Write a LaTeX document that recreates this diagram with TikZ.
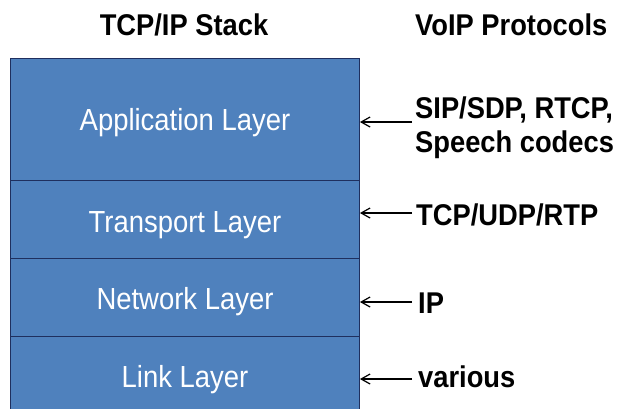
\documentclass[tikz,border=0pt]{standalone}
\usepackage{fontspec}
\setmainfont{Liberation Sans}
\newfontfamily\narrowfont[FakeStretch=0.9]{Liberation Sans}
\newfontfamily\boldnarrow[FakeStretch=0.91]{Liberation Sans Bold}
\usetikzlibrary{arrows.meta}
\definecolor{layerblue}{HTML}{4F81BD}
\definecolor{layeredge}{HTML}{1F2F5E}
\tikzset{
  layerbox/.style={draw=layeredge, line width=0.9pt, fill=layerblue, minimum width=349pt, inner sep=0pt, anchor=north west},
  layertext/.style={text=white, font=\narrowfont\fontsize{30.5}{34}\selectfont, inner sep=0pt},
  headtext/.style={font=\boldnarrow\fontsize{30}{34}\selectfont, inner sep=0pt},
  prototext/.style={font=\boldnarrow\fontsize{30}{34}\selectfont, inner sep=0pt, align=left},
  arr/.style={-{Straight Barb[length=9pt,width=10pt,line width=1.2pt]}, line width=1.2pt}
}
\begin{document}
\begin{tikzpicture}[x=1pt,y=-1pt]
\clip (0,0) rectangle (621,408);
\fill[white] (0,0) rectangle (621,408);
% layers
\node[layerbox, minimum height=122pt] (app) at (10,58) {};
\node[layerbox, minimum height=78pt] (trans) at (10,180) {};
\node[layerbox, minimum height=78pt] (net) at (10,258) {};
\node[layerbox, minimum height=90pt] (link) at (10,336) {};
% layer labels
\node[layertext, anchor=base] (appt) at (185,130) {Application Layer};
\node[layertext, anchor=base] (transt) at (185,232) {Transport Layer};
\node[layertext, anchor=base] (nett) at (185,309) {Network Layer};
\node[layertext, anchor=base] (linkt) at (185,387) {Link Layer};
% headers
\node[headtext, anchor=base] (h1) at (184,35) {TCP/IP Stack};
\node[headtext, anchor=base west] (h2) at (415,35) {VoIP Protocols};
% protocols
\node[prototext, anchor=base west] (p1) at (415,118) {SIP/SDP, RTCP,};
\node[prototext, anchor=base west] (p1b) at (415,152) {Speech codecs};
\node[prototext, anchor=base west] (p2) at (416,225) {TCP/UDP/RTP};
\node[prototext, anchor=base west] (p3) at (418,313) {IP};
\node[prototext, anchor=base west] (p4) at (418,387) {various};
% arrow starts
\coordinate (s1) at (412,122);
\coordinate (s2) at (412,213);
\coordinate (s3) at (412,302);
\coordinate (s4) at (412,379);
\draw[arr] (s1) -- (s1 -| app.east);
\draw[arr] (s2) -- (s2 -| trans.east);
\draw[arr] (s3) -- (s3 -| net.east);
\draw[arr] (s4) -- (s4 -| link.east);
\end{tikzpicture}
\end{document}
